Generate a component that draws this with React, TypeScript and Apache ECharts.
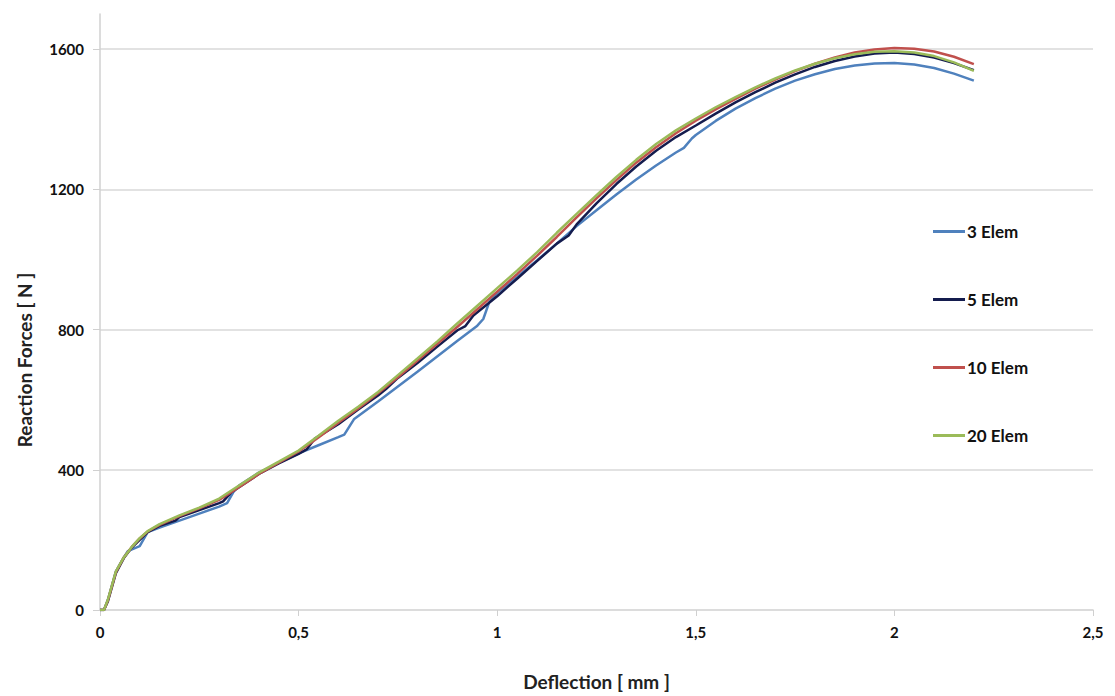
import React, { useEffect, useRef } from "react";
import * as echarts from "echarts";

// ---- data ----
const seriesNames = ["3 Elem", "5 Elem", "10 Elem", "20 Elem"];
const seriesColors = ["#4F81BD", "#141C4E", "#C0504D", "#9BBB59"];

const x3 = [0, 0.01, 0.02, 0.04, 0.06, 0.07, 0.1, 0.12, 0.15, 0.2, 0.25, 0.3, 0.32, 0.335, 0.35, 0.4, 0.45, 0.5, 0.55, 0.6, 0.615, 0.64, 0.7, 0.8, 0.9, 0.95, 0.965, 0.98, 1.0, 1.05, 1.1, 1.15, 1.2, 1.25, 1.3, 1.35, 1.4, 1.45, 1.47, 1.49, 1.5, 1.55, 1.6, 1.65, 1.7, 1.75, 1.8, 1.85, 1.9, 1.95, 2.0, 2.05, 2.1, 2.15, 2.2];
const y3 = [0, 0, 30, 110, 150, 168, 182, 222, 235, 255, 275, 295, 305, 335, 355, 392, 420, 447, 470, 493, 500, 545, 595, 680, 768, 811, 830, 878, 905, 950, 997, 1045, 1095, 1140, 1185, 1228, 1268, 1305, 1318, 1345, 1355, 1395, 1430, 1460, 1487, 1510, 1528, 1543, 1553, 1559, 1560, 1556, 1546, 1530, 1510];

const x5 = [0, 0.01, 0.02, 0.04, 0.06, 0.08, 0.1, 0.12, 0.15, 0.19, 0.2, 0.25, 0.3, 0.31, 0.33, 0.35, 0.4, 0.45, 0.5, 0.52, 0.54, 0.6, 0.65, 0.7, 0.72, 0.75, 0.8, 0.85, 0.9, 0.92, 0.94, 1.0, 1.05, 1.1, 1.15, 1.18, 1.2, 1.25, 1.3, 1.35, 1.4, 1.45, 1.5, 1.55, 1.6, 1.65, 1.7, 1.75, 1.8, 1.85, 1.9, 1.95, 2.0, 2.05, 2.1, 2.15, 2.2];
const y5 = [0, 0, 25, 105, 148, 178, 200, 222, 240, 255, 265, 285, 305, 310, 335, 350, 388, 418, 445, 458, 488, 530, 572, 612, 630, 662, 705, 752, 798, 810, 840, 895, 945, 995, 1045, 1068, 1100, 1160, 1215, 1265, 1310, 1349, 1382, 1416, 1448, 1477, 1504, 1528, 1549, 1566, 1579, 1587, 1590, 1586, 1576, 1560, 1540];

const x10 = [0, 0.01, 0.02, 0.04, 0.06, 0.08, 0.1, 0.12, 0.15, 0.2, 0.25, 0.3, 0.35, 0.4, 0.45, 0.5, 0.55, 0.6, 0.65, 0.7, 0.75, 0.8, 0.85, 0.9, 0.95, 1.0, 1.05, 1.1, 1.15, 1.2, 1.25, 1.3, 1.35, 1.4, 1.45, 1.5, 1.55, 1.6, 1.65, 1.7, 1.75, 1.8, 1.85, 1.9, 1.95, 2.0, 2.05, 2.1, 2.15, 2.2];
const y10 = [0, 0, 28, 108, 150, 180, 204, 224, 243, 268, 290, 314, 350, 388, 420, 452, 492, 534, 575, 618, 664, 712, 760, 808, 858, 908, 958, 1010, 1064, 1120, 1174, 1226, 1276, 1320, 1360, 1396, 1428, 1458, 1487, 1513, 1537, 1558, 1576, 1590, 1599, 1603, 1601, 1593, 1578, 1557];

const x20 = [0, 0.01, 0.02, 0.04, 0.06, 0.08, 0.1, 0.12, 0.15, 0.2, 0.25, 0.3, 0.35, 0.4, 0.45, 0.5, 0.55, 0.6, 0.65, 0.7, 0.75, 0.8, 0.85, 0.9, 0.95, 1.0, 1.05, 1.1, 1.15, 1.2, 1.25, 1.3, 1.35, 1.4, 1.45, 1.5, 1.55, 1.6, 1.65, 1.7, 1.75, 1.8, 1.85, 1.9, 1.95, 2.0, 2.05, 2.1, 2.15, 2.2];
const y20 = [0, 0, 30, 110, 150, 180, 205, 225, 245, 270, 292, 318, 355, 392, 423, 455, 497, 540, 580, 622, 670, 718, 767, 818, 868, 918, 968, 1020, 1076, 1130, 1183, 1235, 1284, 1329, 1368, 1402, 1434, 1463, 1491, 1516, 1539, 1558, 1574, 1585, 1592, 1594, 1590, 1580, 1562, 1538];

const xTicks = [0, 0.5, 1, 1.5, 2, 2.5];
const yTicks = [0, 400, 800, 1200, 1600];

const xs = [x3, x5, x10, x20];
const ys = [y3, y5, y10, y20];

const FONT = "Lato, 'Open Sans', sans-serif";

export default function App() {
  const ref = useRef<HTMLDivElement>(null);
  useEffect(() => {
    if (!ref.current) return;
    const chart = echarts.init(ref.current, null, { renderer: "svg" });
    const series = seriesNames.map((name, i) => ({
      name,
      type: "line",
      showSymbol: false,
      symbol: "none",
      lineStyle: { color: seriesColors[i], width: 2.5 },
      itemStyle: { color: seriesColors[i] },
      data: xs[i].map((x, j) => [x, ys[i][j]]),
      z: 2 + i,
    }));
    chart.setOption({
      animation: false,
      backgroundColor: "#ffffff",
      grid: { left: 100, right: 22, top: 14, bottom: 82, containLabel: false },
      legend: {
        orient: "vertical",
        left: 928,
        top: 218,
        icon: "rect",
        itemWidth: 32,
        itemHeight: 3,
        itemGap: 51,
        textStyle: { fontFamily: FONT, fontWeight: "bold", fontSize: 17, color: "#111", padding: [0, 0, 0, -3] },
        data: seriesNames,
      },
      xAxis: {
        type: "value",
        min: 0,
        max: 2.5,
        interval: 0.5,
        name: "Deflection [ mm ]",
        nameLocation: "middle",
        nameGap: 62,
        nameTextStyle: { fontFamily: FONT, fontWeight: "bold", fontSize: 19, color: "#222" },
        axisLine: { show: true, lineStyle: { color: "#d0d0d0", width: 1.5 } },
        axisTick: { show: true, inside: false, length: 6, lineStyle: { color: "#d0d0d0" } },
        axisLabel: {
          margin: 14,
          fontFamily: FONT,
          fontWeight: "bold",
          fontSize: 15,
          color: "#111",
          formatter: (v: number) => (xTicks.includes(v) ? String(v).replace(".", ",") : ""),
        },
        splitLine: { show: false },
      },
      yAxis: {
        type: "value",
        min: 0,
        max: 1700,
        interval: 400,
        name: "Reaction Forces [ N ]",
        nameLocation: "middle",
        nameGap: 66,
        nameTextStyle: { fontFamily: FONT, fontWeight: "bold", fontSize: 19, color: "#222", padding: [0, 96, 0, 0] },
        axisLine: { show: true, lineStyle: { color: "#d0d0d0", width: 1.5 } },
        axisTick: { show: true, length: 7, lineStyle: { color: "#d0d0d0" } },
        axisLabel: {
          margin: 16,
          fontFamily: FONT,
          fontWeight: "bold",
          fontSize: 15,
          color: "#111",
          showMaxLabel: false,
          formatter: (v: number) => (yTicks.includes(v) ? String(v) : ""),
        },
        splitLine: { show: true, showMaxLine: false, showMinLine: false, lineStyle: { color: "#d9d9d9", width: 1.5 } },
      },
      series,
    });
    return () => chart.dispose();
  }, []);
  return <div ref={ref} style={{ position: "fixed", left: 0, top: 0, width: 1115, height: 696, background: "#fff" }} />;
}
